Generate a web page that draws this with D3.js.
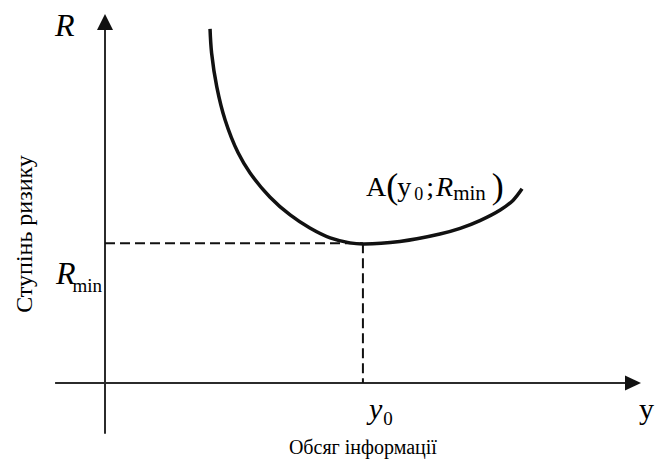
<!DOCTYPE html>
<html>
<head>
<meta charset="utf-8">
<script src="https://cdn.jsdelivr.net/npm/d3@7"></script>
<style>
  body { margin: 0; background: #fff; }
  svg { display: block; font-family: "Liberation Serif", "Times New Roman", "DejaVu Serif", serif; }
</style>
</head>
<body>
<svg id="chart" width="655" height="461"></svg>
<script>
// curve of risk vs amount of information
const infoAmount = [20.2, 20.5, 21.5, 23.1, 25.6, 27.9, 31.7, 35.6, 39.4, 43.3, 47.1, 49.6, 56.7, 64.4, 68.3, 72.1, 76.0, 78.5, 80.2];
const riskLevel  = [100.3, 93.5, 83.9, 74.5, 65.2, 59.5, 52.7, 47.6, 43.9, 41.1, 39.7, 39.4, 40.1, 42.2, 43.8, 46.0, 49.0, 51.8, 55.0];
// optimum point A(y0; Rmin)
const y0 = 49.6;
const Rmin = 39.6;

const svg = d3.select('#chart');

let x = d3.scaleLinear().domain([0, 100]).range([105, 625]);
let y = d3.scaleLinear().domain([0, 100]).range([383, 30]);

const axisColor = '#2b2b2b';

// axes
svg.append('line')
    .attr('x1', x(-9.6)).attr('x2', x(100))
    .attr('y1', y(0)).attr('y2', y(0))
    .attr('stroke', axisColor).attr('stroke-width', 2);
svg.append('path')
    .attr('d', `M${x(100)},${y(0) - 7.5} L${x(100) + 16},${y(0)} L${x(100)},${y(0) + 7.5} Z`)
    .attr('fill', '#111');

svg.append('line')
    .attr('x1', x(0)).attr('x2', x(0))
    .attr('y1', y(-14.4)).attr('y2', y(100))
    .attr('stroke', axisColor).attr('stroke-width', 2);
svg.append('path')
    .attr('d', `M${x(0) - 8},${y(100)} L${x(0)},${y(100) - 16} L${x(0) + 8},${y(100)} Z`)
    .attr('fill', '#111');

// dashed guides to the minimum
svg.append('line')
    .attr('x1', x(0)).attr('x2', x(y0))
    .attr('y1', y(Rmin)).attr('y2', y(Rmin))
    .attr('stroke', '#111').attr('stroke-width', 2)
    .attr('stroke-dasharray', '10,5');
svg.append('line')
    .attr('x1', x(y0)).attr('x2', x(y0))
    .attr('y1', y(Rmin)).attr('y2', y(0))
    .attr('stroke', '#111').attr('stroke-width', 2)
    .attr('stroke-dasharray', '10,5');

// the curve
let pts = infoAmount.map((d, i) => [d, riskLevel[i]]);
let line = d3.line()
    .x(d => x(d[0]))
    .y(d => y(d[1]))
    .curve(d3.curveCatmullRom.alpha(0.5));
svg.append('path')
    .datum(pts)
    .attr('d', line)
    .attr('fill', 'none')
    .attr('stroke', '#111')
    .attr('stroke-width', 3.5);

// labels
svg.append('text')
    .attr('x', 55).attr('y', 36)
    .attr('font-size', '32px').attr('font-style', 'italic')
    .text('R');

let rmin = svg.append('text')
    .attr('x', 56).attr('y', y(Rmin) + 41)
    .attr('font-size', '32px');
rmin.append('tspan').attr('font-style', 'italic').text('R');
rmin.append('tspan').attr('font-size', '19px').attr('dy', 8).attr('dx', -3).text('min');

let yLab = svg.append('text')
    .attr('x', x(y0) + 6).attr('y', 419)
    .attr('font-size', '30px');
yLab.append('tspan').attr('font-style', 'italic').text('y');
yLab.append('tspan').attr('font-size', '19px').attr('dy', 6).attr('dx', 1).text('0');

svg.append('text')
    .attr('x', 639).attr('y', 419)
    .attr('font-size', '30px')
    .text('y');

svg.append('text')
    .attr('x', x(y0)).attr('y', 454)
    .attr('text-anchor', 'middle')
    .attr('font-size', '20px')
    .text('Обсяг інформації');

svg.append('text')
    .attr('transform', 'translate(32,234) rotate(-90)')
    .attr('text-anchor', 'middle')
    .attr('font-size', '24px')
    .text('Ступінь ризику');

// point label A(y0; Rmin)
let aLab = svg.append('text')
    .attr('x', 366).attr('y', 196)
    .attr('font-size', '28px');
aLab.append('tspan').text('A');
aLab.append('tspan').attr('font-size', '36px').attr('dy', 2).text('(');
aLab.append('tspan').attr('dy', -2).attr('dx', -1).text('y');
aLab.append('tspan').attr('font-size', '18px').attr('dy', 4).attr('dx', 3).text('0');
aLab.append('tspan').attr('dy', -4).attr('dx', 3).text(';');
aLab.append('tspan').attr('font-style', 'italic').attr('dx', 2).text('R');
aLab.append('tspan').attr('font-size', '21px').attr('dy', 4).attr('dx', 0).text('min');
aLab.append('tspan').attr('font-size', '36px').attr('dy', -2).attr('dx', 6).text(')');
</script>
</body>
</html>
